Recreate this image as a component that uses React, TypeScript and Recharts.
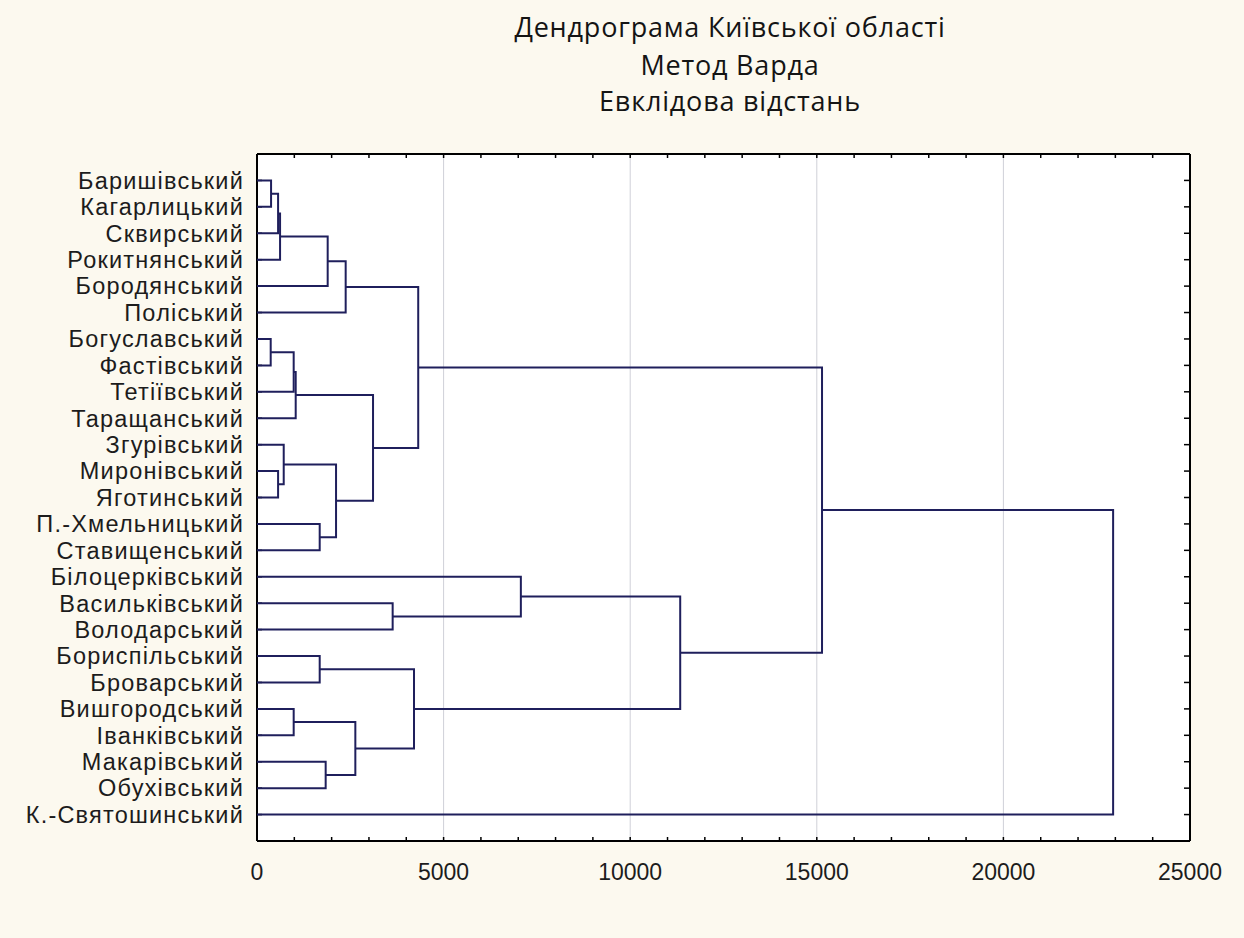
import { ComposedChart, Scatter, XAxis, YAxis, CartesianGrid } from 'recharts';

// leaves, top to bottom
const leaves = [
	'Баришівський',
	'Кагарлицький',
	'Сквирський',
	'Рокитнянський',
	'Бородянський',
	'Поліський',
	'Богуславський',
	'Фастівський',
	'Тетіївський',
	'Таращанський',
	'Згурівський',
	'Миронівський',
	'Яготинський',
	'П.-Хмельницький',
	'Ставищенський',
	'Білоцерківський',
	'Васильківський',
	'Володарський',
	'Бориспільський',
	'Броварський',
	'Вишгородський',
	'Іванківський',
	'Макарівський',
	'Обухівський',
	'К.-Святошинський',
];

// merge steps: ids 0..24 are leaves, merge k gets id 25 + k
const mergeLeft = [6, 0, 11, 26, 28, 10, 25, 20, 31, 13, 18, 22, 29, 30, 37, 32, 33, 16, 35, 39, 15, 45, 44, 47];
const mergeRight = [7, 1, 12, 2, 3, 27, 8, 21, 9, 14, 19, 23, 4, 34, 5, 36, 38, 17, 40, 41, 42, 43, 46, 24];
const mergeHeight = [
	367, 377, 565, 565, 618, 716, 983, 983, 1037, 1680, 1680, 1840, 1894, 2118, 2376, 2635, 3109, 3635, 4207, 4320,
	7070, 11340, 15140, 22940,
];

const xTicks = [0, 5000, 10000, 15000, 20000, 25000];
const xMinorTicks = Array.from({ length: 26 }, (_, i) => i * 1000);
const yTicks = leaves.map((_, i) => i + 1);

const titleLines = ['Дендрограма Київської області', 'Метод Варда', 'Евклідова відстань'];

function buildLinks() {
	const pos = leaves.map((_, i) => ({ x: 0, y: i + 1 }));
	const links: { x: number; y: number }[][] = [];
	mergeHeight.forEach((h, k) => {
		const a = pos[mergeLeft[k]];
		const b = pos[mergeRight[k]];
		links.push([
			{ x: a.x, y: a.y },
			{ x: h, y: a.y },
			{ x: h, y: b.y },
			{ x: b.x, y: b.y },
		]);
		pos.push({ x: h, y: (a.y + b.y) / 2 });
	});
	return links;
}

const LINE = '#1f1f5c';
const FRAME = '#000';
const yLabelFont = {
	fontFamily: '"Liberation Sans", Arial, sans-serif',
	fontSize: 23.5,
	letterSpacing: 1.2,
	fill: '#1c1c1c',
};
const xLabelFont = { fontFamily: '"Liberation Sans", Arial, sans-serif', fontSize: 23, fill: '#1c1c1c' };
const noLabel = () => <g />;
const noDot = () => <g />;

export default function App() {
	const links = buildLinks();
	const titleTops = [11, 49, 85];

	return (
		<div style={styles.page}>
			{titleLines.map((t, i) => (
				<div key={i} style={{ ...styles.titleLine, top: titleTops[i] }}>
					{t}
				</div>
			))}
			<ComposedChart width={1244} height={938} margin={{ top: 154, right: 54, bottom: 37, left: 7 }}>
				<CartesianGrid horizontal={false} stroke="#cfd0d8" strokeWidth={1} fill="#ffffff" />
				<XAxis
					type="number"
					dataKey="x"
					domain={[0, 25000]}
					ticks={xTicks}
					interval={0}
					height={60}
					tickSize={0}
					tickMargin={23}
					tick={xLabelFont}
					tickLine={false}
					axisLine={{ stroke: FRAME, strokeWidth: 2 }}
					allowDataOverflow
				/>
				<XAxis
					xAxisId="minorBottom"
					type="number"
					dataKey="x"
					domain={[0, 25000]}
					ticks={xMinorTicks}
					interval={0}
					mirror
					tick={noLabel}
					tickSize={4}
					tickLine={{ stroke: FRAME, strokeWidth: 1.5 }}
					axisLine={false}
					allowDataOverflow
				/>
				<XAxis
					xAxisId="top"
					orientation="top"
					type="number"
					dataKey="x"
					domain={[0, 25000]}
					ticks={xMinorTicks}
					interval={0}
					mirror
					tick={noLabel}
					tickSize={4}
					tickLine={{ stroke: FRAME, strokeWidth: 1.5 }}
					axisLine={{ stroke: FRAME, strokeWidth: 2 }}
					allowDataOverflow
				/>
				<YAxis
					type="number"
					dataKey="y"
					domain={[0, 26]}
					reversed
					ticks={yTicks}
					interval={0}
					width={250}
					tickSize={0}
					tickMargin={13}
					tick={yLabelFont}
					tickFormatter={(v: number) => leaves[v - 1] ?? ''}
					tickLine={false}
					axisLine={{ stroke: FRAME, strokeWidth: 2 }}
					allowDataOverflow
				/>
				<YAxis
					yAxisId="leftTicks"
					type="number"
					dataKey="y"
					domain={[0, 26]}
					reversed
					ticks={yTicks}
					interval={0}
					mirror
					tick={noLabel}
					tickSize={5}
					tickLine={{ stroke: FRAME, strokeWidth: 1.5 }}
					axisLine={false}
					allowDataOverflow
				/>
				<YAxis
					yAxisId="right"
					orientation="right"
					type="number"
					dataKey="y"
					domain={[0, 26]}
					reversed
					ticks={yTicks}
					interval={0}
					mirror
					tick={noLabel}
					tickSize={6}
					tickLine={{ stroke: FRAME, strokeWidth: 1.5 }}
					axisLine={{ stroke: FRAME, strokeWidth: 2 }}
					allowDataOverflow
				/>
				{/* invisible series so the tick-only axes get a scale */}
				<Scatter
					xAxisId="top"
					yAxisId="right"
					data={links[links.length - 1]}
					shape={noDot}
					isAnimationActive={false}
				/>
				<Scatter
					xAxisId="minorBottom"
					yAxisId="leftTicks"
					data={links[links.length - 1]}
					shape={noDot}
					isAnimationActive={false}
				/>
				{links.map((pts, i) => (
					<Scatter
						key={i}
						data={pts}
						line={{ stroke: LINE, strokeWidth: 2 }}
						lineJointType="linear"
						shape={noDot}
						isAnimationActive={false}
					/>
				))}
			</ComposedChart>
		</div>
	);
}

const styles: Record<string, React.CSSProperties> = {
	page: {
		position: 'absolute',
		left: 0,
		top: 0,
		width: 1244,
		height: 938,
		background: '#fcf9ef',
	},
	titleLine: {
		position: 'absolute',
		left: 730 - 400,
		width: 800,
		textAlign: 'center',
		fontFamily: '"Open Sans", sans-serif',
		fontSize: 27,
		letterSpacing: 0.8,
		lineHeight: '32px',
		color: '#141414',
		zIndex: 1,
	},
};
